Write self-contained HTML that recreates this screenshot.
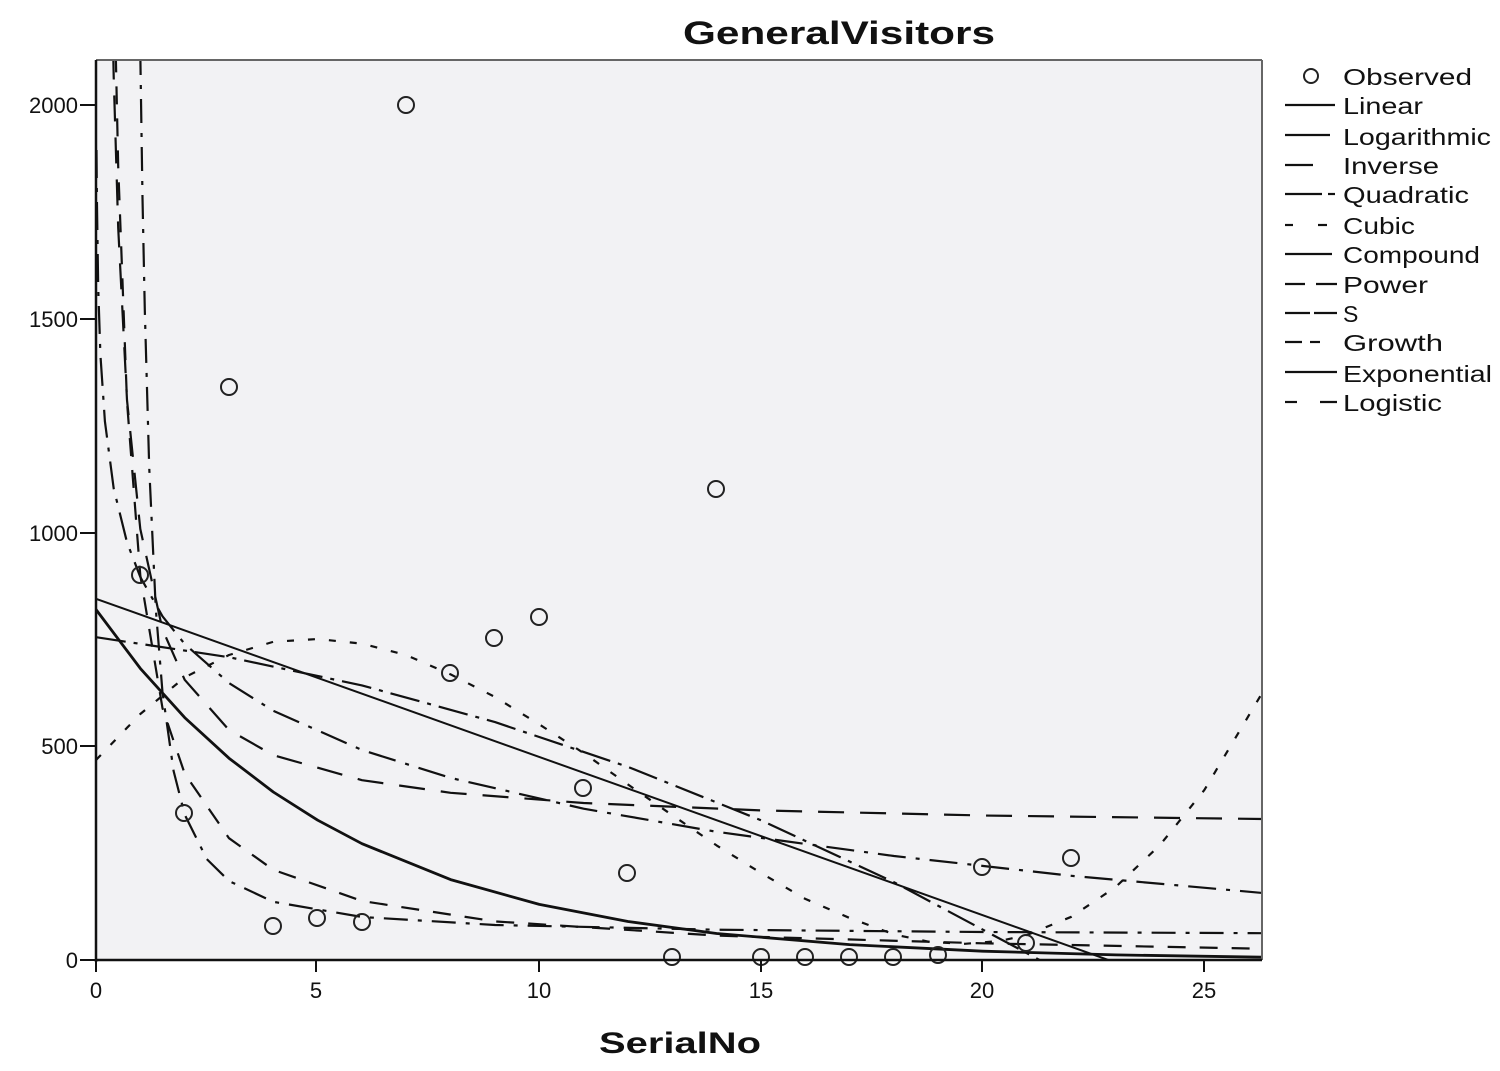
<!DOCTYPE html>
<html><head><meta charset="utf-8"><style>
html,body{margin:0;padding:0;background:#fff;}
svg{display:block;font-family:"Liberation Sans",sans-serif;}
</style></head><body>
<svg width="1500" height="1071" viewBox="0 0 1500 1071" xmlns="http://www.w3.org/2000/svg">
<rect x="0" y="0" width="1500" height="1071" fill="#fff"/>
<rect x="96" y="60" width="1166" height="900" fill="#f2f2f4"/>
<defs><clipPath id="c"><rect x="96" y="60" width="1166" height="900"/></clipPath></defs>
<g clip-path="url(#c)" fill="none" stroke="#111" stroke-width="2.2" stroke-linejoin="round">
<path d="M96 598.8 L1137.8 970.5" stroke-width="2"/>
<path d="M96 609.5 L140.3 668.4 L184.7 717.6 L229 758.2 L273.3 792 L317.7 820.2 L362 843.7 L450.6 879.6 L539.3 904.4 L628 921.5 L716.6 933.5 L849.6 944.6 L982.6 951.2 L1115.6 954.9 L1270.7 957.3" stroke-width="2.8"/>
<path d="M96 637.2 L229 657.2 L362 685.4 L495 722.1 L628 766.9 L761 820.3 L894 882.2 L1053.5 967.4" stroke-dasharray="30 8 4 8"/>
<path d="M96.5 150 L96.9 199 L98.2 287.5 L100.4 354.7 L104.9 421.3 L113.7 488.5 L127 542.3 L140.3 577 L162.5 616.3 L184.7 644 L229 683 L273.3 710.8 L362 750 L450.6 777.9 L583.6 808.7 L716.6 831.8 L894 856 L1071.3 875.8 L1270.7 893.7" stroke-dasharray="28 10 4 10"/>
<path d="M111.5 -30.5 L113.7 76.8 L118.2 227.7 L127 400 L140.3 529 L162.5 629.5 L184.7 679.8 L229 730 L273.3 755.2 L362 780.2 L450.6 792.8 L583.6 803 L761 810.4 L982.6 815.5 L1270.7 819.1" stroke-dasharray="26 16"/>
<path d="M138.1 -141 L140.3 53.3 L142.5 197.8 L144.8 310 L149.2 467 L155.8 609 L162.5 692.4 L173.6 771 L184.7 814.6 L206.8 859.1 L229 881 L273.3 901.8 L362 917 L495 925 L716.6 929.7 L982.6 932 L1270.7 933.2" stroke-dasharray="24 10 4 10"/>
<path d="M113.7 -41.6 L118.2 166.6 L127 401.7 L140.3 575.3 L162.5 708.2 L184.7 773.6 L229 838.2 L273.3 869.8 L362 901 L495 921.4 L716.6 935.6 L982.6 943.3 L1270.7 948.9" stroke-dasharray="18 14"/>
<path d="M96 760 L140.3 714 L184.7 677.4 L229 655 L273.3 641.8 L317.7 639 L362 643.7 L406 655 L450.6 674.4 L495 697 L539.3 724.4 L583.6 753 L628 784.5 L672 815 L716.6 845.4 L761 873 L805.3 898.9 L849.6 918 L894 934.4 L930 942 L964.9 943.8 L1000 941 L1026.9 935 L1071.3 916.8 L1115.6 887.1 L1160 845 L1204.3 790.1 L1270.7 678.7" stroke-dasharray="7 14"/>
</g>
<g fill="none" stroke="#222" stroke-width="2">
<circle cx="140" cy="575" r="8"/><circle cx="184" cy="813" r="8"/><circle cx="229" cy="387" r="8"/><circle cx="273" cy="926" r="8"/><circle cx="317" cy="918" r="8"/><circle cx="362" cy="922" r="8"/><circle cx="406" cy="105" r="8"/><circle cx="450" cy="673" r="8"/><circle cx="494" cy="638" r="8"/><circle cx="539" cy="617" r="8"/><circle cx="583" cy="788" r="8"/><circle cx="627" cy="873" r="8"/><circle cx="672" cy="957" r="8"/><circle cx="716" cy="489" r="8"/><circle cx="761" cy="957" r="8"/><circle cx="805" cy="957" r="8"/><circle cx="849" cy="957" r="8"/><circle cx="893" cy="957" r="8"/><circle cx="938" cy="955" r="8"/><circle cx="982" cy="867" r="8"/><circle cx="1026" cy="943" r="8"/><circle cx="1071" cy="858" r="8"/>
</g>
<line x1="96" y1="60" x2="1262" y2="60" stroke="#666" stroke-width="2"/>
<line x1="1262" y1="60" x2="1262" y2="960" stroke="#666" stroke-width="2"/>
<line x1="96" y1="60" x2="96" y2="962" stroke="#111" stroke-width="2.5"/>
<line x1="95" y1="960" x2="1262" y2="960" stroke="#111" stroke-width="2.5"/>
<g stroke="#111" stroke-width="2">
<line x1="80" y1="960" x2="96" y2="960"/><line x1="80" y1="746" x2="96" y2="746"/><line x1="80" y1="533" x2="96" y2="533"/><line x1="80" y1="319" x2="96" y2="319"/><line x1="80" y1="105" x2="96" y2="105"/>
<line x1="96" y1="960" x2="96" y2="972"/><line x1="316" y1="960" x2="316" y2="972"/><line x1="539" y1="960" x2="539" y2="972"/><line x1="761" y1="960" x2="761" y2="972"/><line x1="982" y1="960" x2="982" y2="972"/><line x1="1204" y1="960" x2="1204" y2="972"/>
</g>
<g font-size="22" fill="#111" text-anchor="end">
<text x="78" y="968">0</text><text x="78" y="754">500</text><text x="78" y="541">1000</text><text x="78" y="327">1500</text><text x="78" y="113">2000</text>
</g>
<g font-size="22" fill="#111" text-anchor="middle">
<text x="96" y="998">0</text><text x="316" y="998">5</text><text x="539" y="998">10</text><text x="761" y="998">15</text><text x="982" y="998">20</text><text x="1204" y="998">25</text>
</g>
<text x="683" y="44" font-size="32" font-weight="bold" textLength="312" lengthAdjust="spacingAndGlyphs" fill="#111">GeneralVisitors</text>
<text x="599" y="1053" font-size="30" font-weight="bold" textLength="162" lengthAdjust="spacingAndGlyphs" fill="#111">SerialNo</text>
<g font-size="23" fill="#111">
<circle cx="1311" cy="76" r="7" fill="none" stroke="#222" stroke-width="2"/>
<text x="1343" y="85" textLength="129" lengthAdjust="spacingAndGlyphs">Observed</text>
<text x="1343" y="114" textLength="80" lengthAdjust="spacingAndGlyphs">Linear</text>
<text x="1343" y="145" textLength="148" lengthAdjust="spacingAndGlyphs">Logarithmic</text>
<text x="1343" y="174" textLength="96" lengthAdjust="spacingAndGlyphs">Inverse</text>
<text x="1343" y="203" textLength="126" lengthAdjust="spacingAndGlyphs">Quadratic</text>
<text x="1343" y="234" textLength="72" lengthAdjust="spacingAndGlyphs">Cubic</text>
<text x="1343" y="263" textLength="137" lengthAdjust="spacingAndGlyphs">Compound</text>
<text x="1343" y="293" textLength="85" lengthAdjust="spacingAndGlyphs">Power</text>
<text x="1343" y="322">S</text>
<text x="1343" y="351" textLength="100" lengthAdjust="spacingAndGlyphs">Growth</text>
<text x="1343" y="382" textLength="149" lengthAdjust="spacingAndGlyphs">Exponential</text>
<text x="1343" y="411" textLength="99" lengthAdjust="spacingAndGlyphs">Logistic</text>
</g>
<g stroke="#111" stroke-width="2.2">
<line x1="1285" y1="105" x2="1335" y2="105"/>
<line x1="1285" y1="135" x2="1330" y2="135"/>
<line x1="1285" y1="165" x2="1313" y2="165"/>
<line x1="1285" y1="194" x2="1322" y2="194"/><line x1="1328" y1="194" x2="1335" y2="194"/>
<line x1="1285" y1="225" x2="1293" y2="225"/><line x1="1318" y1="225" x2="1327" y2="225"/>
<line x1="1285" y1="254" x2="1332" y2="254"/>
<line x1="1285" y1="284" x2="1305" y2="284"/><line x1="1316" y1="284" x2="1337" y2="284"/>
<line x1="1285" y1="313" x2="1310" y2="313"/><line x1="1314" y1="313" x2="1337" y2="313"/>
<line x1="1285" y1="342" x2="1302" y2="342"/><line x1="1310" y1="342" x2="1320" y2="342"/>
<line x1="1285" y1="372" x2="1337" y2="372"/>
<line x1="1285" y1="402" x2="1297" y2="402"/><line x1="1320" y1="402" x2="1337" y2="402"/>
</g>
</svg>
</body></html>
